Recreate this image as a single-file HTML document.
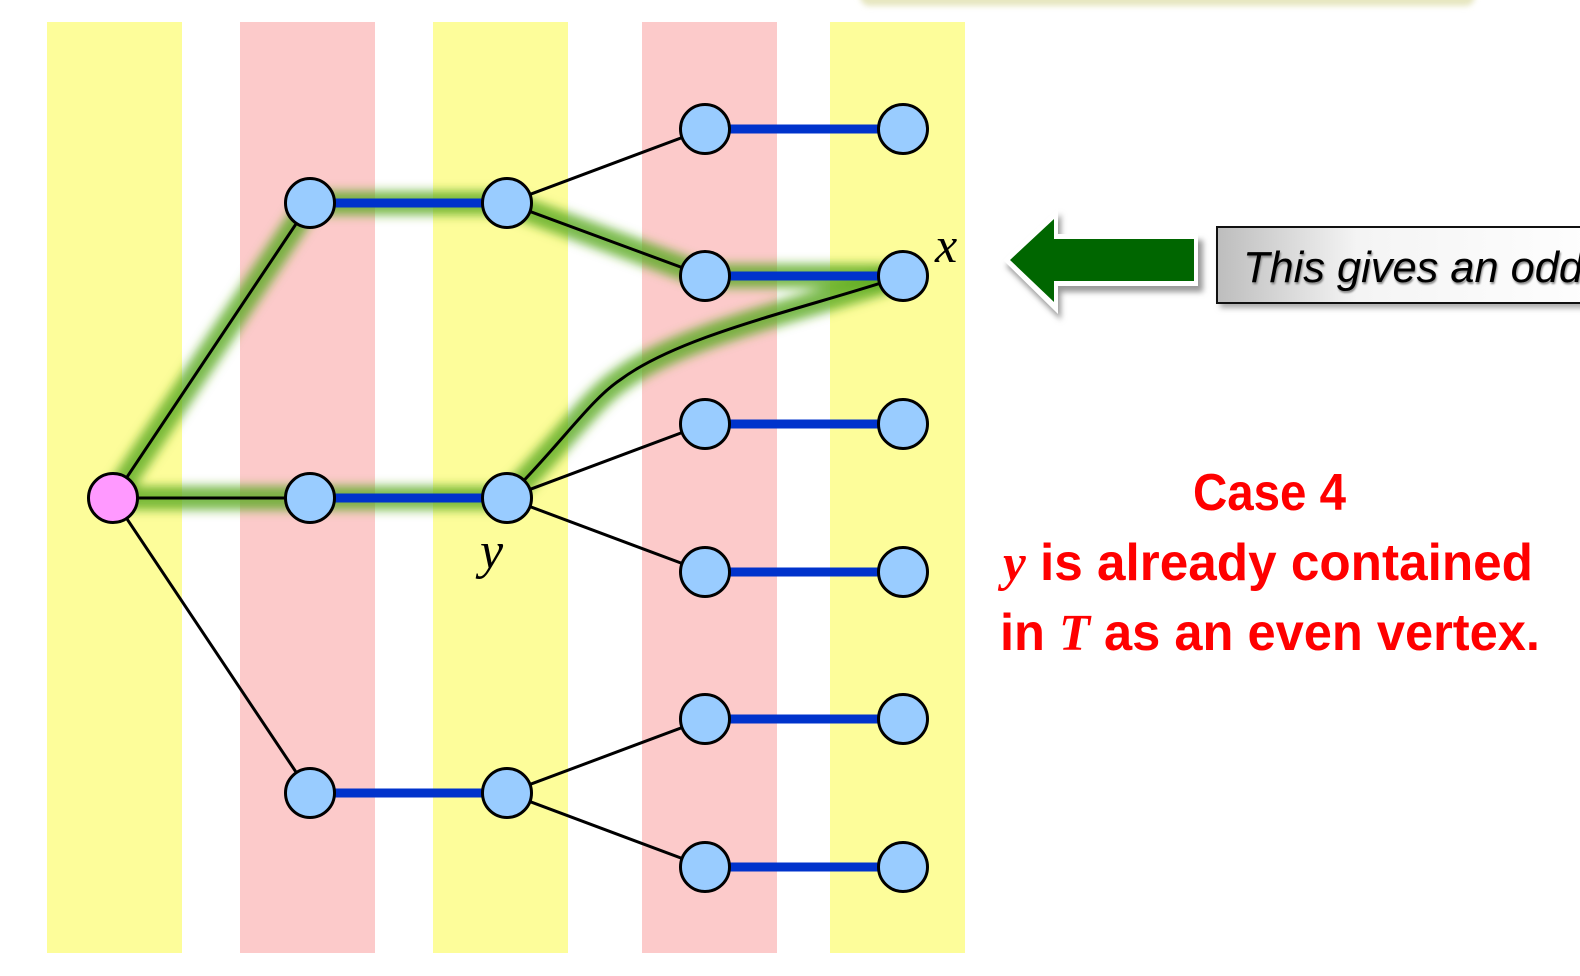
<!DOCTYPE html>
<html><head><meta charset="utf-8"><style>
html,body{margin:0;padding:0;background:#fff;width:1580px;height:976px;overflow:hidden}
svg{display:block}
</style></head><body>
<svg id="diagram" width="1580" height="976" viewBox="0 0 1580 976" xmlns="http://www.w3.org/2000/svg">
<defs>
<filter id="glow" x="-20%" y="-20%" width="140%" height="140%"><feGaussianBlur stdDeviation="5"/></filter>
<filter id="sh" x="-20%" y="-50%" width="140%" height="200%"><feGaussianBlur stdDeviation="3"/></filter>
<linearGradient id="boxg" x1="0" x2="1" y1="0" y2="0"><stop offset="0" stop-color="#bdbdbd"/><stop offset="0.35" stop-color="#f4f4f4"/><stop offset="1" stop-color="#ffffff"/></linearGradient>
</defs>
<rect x="860" y="-20" width="615" height="26" rx="10" fill="#e6e6c0" filter="url(#sh)"/>
<g id="stripes"></g>
<g id="glows" filter="url(#glow)"></g>
<g id="edges"></g>
<g id="nodes"></g>
<text x="935" y="262" font-family="Liberation Serif, serif" font-style="italic" font-size="50">x</text>
<text x="480" y="568" font-family="Liberation Serif, serif" font-style="italic" font-size="52">y</text>
<g>
<polygon points="1003,262 1058,210 1058,236 1200,236 1200,288 1058,288 1058,316" fill="#999" filter="url(#sh)" transform="translate(3,4)"/>
<polygon points="1003,260 1058,208 1058,234 1198,234 1198,286 1058,286 1058,314" fill="#fff"/>
<polygon points="1010,260 1054,219 1054,239 1194,239 1194,281 1054,281 1054,302" fill="#006600"/>
</g>
<rect x="1220" y="232" width="400" height="76" fill="#aaa" filter="url(#sh)"/>
<rect x="1217" y="227" width="400" height="76" fill="url(#boxg)" stroke="#111" stroke-width="2"/>
<text x="1243" y="282" font-family="Liberation Sans, sans-serif" font-style="italic" font-size="44" textLength="340" lengthAdjust="spacingAndGlyphs" fill="#000" style="text-shadow:1px 2px 2px #888">This gives an odd</text>
<g font-family="Liberation Sans, sans-serif" font-weight="bold" fill="#ff0000" font-size="52">
<text x="1193" y="510" textLength="153" lengthAdjust="spacingAndGlyphs">Case 4</text>
<text x="1003" y="580" textLength="530" lengthAdjust="spacingAndGlyphs"><tspan font-family="Liberation Serif, serif" font-style="italic">y</tspan> is already contained</text>
<text x="1000" y="650" textLength="540" lengthAdjust="spacingAndGlyphs">in <tspan font-family="Liberation Serif, serif" font-style="italic">T</tspan> as an even vertex.</text>
</g>
</svg>
<script>
const stripeX=[47,240,433,642,830];
const stripeKind=['yellow','pink','yellow','pink','yellow'];
const levelX=[113,310,507,705,903];
const nodeY1=[203,498,793];
const nodeY3=[129,276,424,572,719,867];
const NS='http://www.w3.org/2000/svg';
function mk(tag,attrs,parent){const e=document.createElementNS(NS,tag);for(const k in attrs)e.setAttribute(k,attrs[k]);document.getElementById(parent).appendChild(e);return e;}
stripeX.forEach((x,i)=>{const r=mk('rect',{x:x,y:22,width:135,height:931,fill:stripeKind[i]==='yellow'?'#fdfd9a':'#fccaca'},'stripes');

});
const root=[levelX[0],498];
const g1=mk('path',{d:`M${root[0]},${root[1]} L${levelX[1]},${nodeY1[0]} L${levelX[2]},${nodeY1[0]} L${levelX[3]},${nodeY3[1]} L${levelX[4]},${nodeY3[1]}`,fill:'none',stroke:'#5aaa1e','stroke-width':24,'stroke-opacity':0.8,'stroke-linejoin':'round'},'glows');


const g2=mk('path',{d:`M${root[0]},${root[1]} L${levelX[2]},${nodeY1[1]} C560,445 590,400 620,380 C680,335 800,310 ${levelX[4]},${nodeY3[1]}`,fill:'none',stroke:'#5aaa1e','stroke-width':24,'stroke-opacity':0.8},'glows');


function line(x1,y1,x2,y2,blue,name){const l=mk('line',{x1:x1,y1:y1,x2:x2,y2:y2,stroke:blue?'#0033cc':'#000','stroke-width':blue?9:3},'edges');

}
nodeY1.forEach((y,i)=>{line(root[0],root[1],levelX[1],y,false,'edge-root-'+i);line(levelX[1],y,levelX[2],y,true,'matched-edge-l1-'+i);
[0,1].forEach(j=>{const y3=nodeY3[i*2+j];line(levelX[2],y,levelX[3],y3,false,'edge-l2-l3');line(levelX[3],y3,levelX[4],y3,true,'matched-edge-l3');});});
const cp=mk('path',{d:`M${levelX[2]},${nodeY1[1]} C560,445 590,400 620,380 C680,335 800,310 ${levelX[4]},${nodeY3[1]}`,fill:'none',stroke:'#000','stroke-width':3},'edges');


function node(x,y,fill,name){const c=mk('circle',{cx:x,cy:y,r:24.5,fill:fill,stroke:'#000','stroke-width':3},'nodes');

}
node(root[0],root[1],'#ff99ff','root-node');
nodeY1.forEach(y=>{node(levelX[1],y,'#99ccff','node-odd');node(levelX[2],y,'#99ccff','node-even');});
nodeY3.forEach(y=>{node(levelX[3],y,'#99ccff','node-odd');node(levelX[4],y,'#99ccff','node-even');});
</script>
</body></html>
